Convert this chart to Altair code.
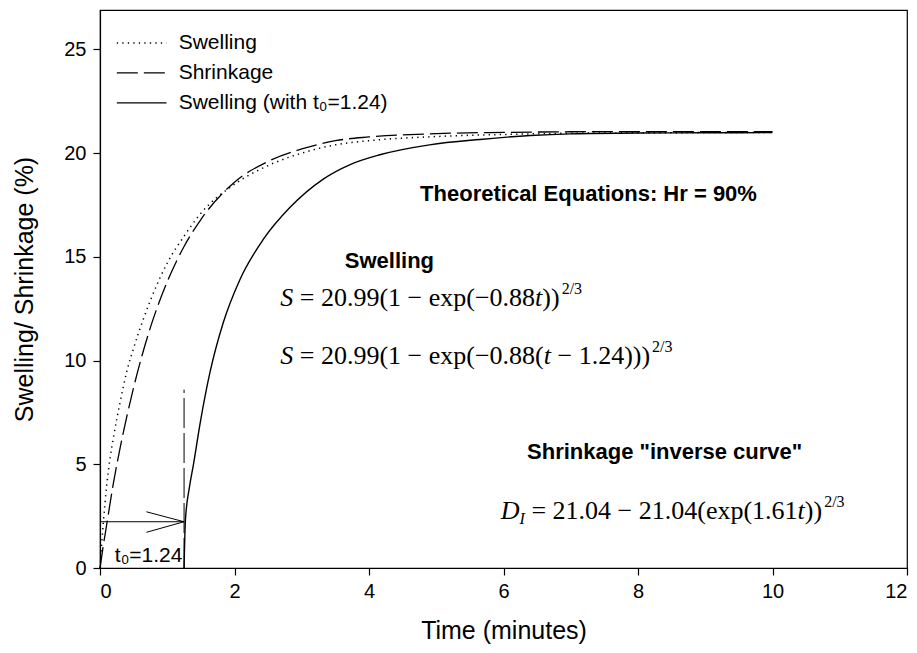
import altair as alt
import pandas as pd

# ---------------- data ----------------
swelling_t = [0, 0.05, 0.1, 0.15, 0.2, 0.3, 0.4, 0.5, 0.75, 1.0, 1.25, 1.5, 2.0, 2.5,
              3.0, 3.5, 4.0, 5.0, 6.0, 7.0, 8.0, 9.0, 10.0]
swelling_v = [0, 2.2, 4.0, 5.3, 6.3, 8.0, 9.5, 10.6, 12.9, 14.7, 16.0, 17.1, 18.5, 19.4,
              20.0, 20.4, 20.6, 20.8, 20.9, 20.96, 20.98, 20.99, 20.99]

shrink_t = [0, 0.05, 0.1, 0.2, 0.3, 0.5, 0.75, 1.0, 1.25, 1.5, 2.0, 2.5, 3.0, 3.5,
            4.0, 5.0, 6.0, 7.0, 8.0, 10.0]
shrink_v = [0, 1.1, 2.1, 4.1, 5.8, 8.7, 11.6, 13.8, 15.5, 16.8, 18.6, 19.6, 20.2, 20.6,
            20.78, 20.94, 21.0, 21.03, 21.04, 21.04]

shifted_t = [1.25, 1.27, 1.33, 1.39, 1.49, 1.64, 1.83, 2.08, 2.43, 2.83, 3.32, 3.72,
             4.16, 4.9, 5.65, 6.4, 7.0, 8.0, 9.0, 10.0]
shifted_v = [0, 2.3, 3.9, 5.0, 7.0, 9.5, 11.8, 13.9, 15.85, 17.4, 18.75, 19.45,
             19.92, 20.4, 20.66, 20.85, 20.93, 20.97, 20.98, 20.99]

t0_value = 1.25          # position of the t0 marker
t0_level = 2.23          # height of the t0 arrow
t0_top = 8.6             # top of the vertical dashed marker

legend_labels = ["Swelling", "Shrinkage", "Swelling (with t\u2080=1.24)"]
legend_y = [25.31, 23.87, 22.42]

x_ticks = [0, 2, 4, 6, 8, 10, 12]
y_ticks = [0, 5, 10, 15, 20, 25]

# ---------------- geometry ----------------
W, H = 807, 558
X_MAX, Y_MAX = 12, 26.9
PXX = W / X_MAX

xs = alt.Scale(domain=[0, X_MAX], nice=False, zero=False)
ys = alt.Scale(domain=[0, Y_MAX], nice=False, zero=False)

x_axis = alt.Axis(values=x_ticks, title="Time (minutes)", grid=False, tickSize=7,
                  labelPadding=6, titlePadding=17, format="d")
y_axis = alt.Axis(values=y_ticks, title="Swelling/ Shrinkage (%)", grid=False, tickSize=7,
                  labelPadding=7, titlePadding=26, format="d")

def X(field="x"):
    return alt.X(f"{field}:Q", scale=xs, axis=x_axis)

def Y(field="y"):
    return alt.Y(f"{field}:Q", scale=ys, axis=y_axis)

BLACK = "#000000"
DOT = [1.3, 4.2]
DASH = [21, 6]

def curve(t, v, dash=None, width=1.3):
    df = pd.DataFrame({"x": t, "y": v})
    kw = dict(color=BLACK, strokeWidth=width, interpolate="monotone")
    if dash:
        kw["strokeDash"] = dash
    return alt.Chart(df).mark_line(**kw).encode(x=X(), y=Y())

layers = [
    curve(swelling_t, swelling_v, DOT, 1.5),
    curve(shrink_t, shrink_v, DASH, 1.3),
    curve(shifted_t, shifted_v, None, 1.4),
]

# vertical dashed t0 marker
vdf = pd.DataFrame({"x": [t0_value], "y": [0], "y2": [t0_top]})
layers.append(alt.Chart(vdf).mark_rule(color=BLACK, strokeWidth=1, strokeDash=[30, 5]).encode(
    x=X(), y=Y(), y2="y2:Q"))

# arrow: shaft and open head
arrow_x = [0, 0.69, 0.69]
arrow_y = [t0_level, 2.71, 1.72]
adf = pd.DataFrame({"x": arrow_x, "y": arrow_y,
                    "x2": [t0_value] * 3, "y2": [t0_level] * 3})
layers.append(alt.Chart(adf).mark_rule(color=BLACK, strokeWidth=1).encode(
    x=X(), y=Y(), x2="x2:Q", y2="y2:Q"))

# t0 label
tdf = pd.DataFrame({"x": [0.22], "y": [0.3], "label": ["t\u2080=1.24"]})
layers.append(alt.Chart(tdf).mark_text(align="left", baseline="alphabetic", font="Liberation Sans",
                                       fontSize=21, color=BLACK).encode(x=X(), y=Y(), text="label:N"))

# legend (inside plot)
lx0, lx1, ltx = 0.25, 0.99, 1.17
for i, dash in enumerate([DOT, DASH, None]):
    ldf = pd.DataFrame({"x": [lx0], "x2": [lx1], "y": [legend_y[i]]})
    kw = dict(color=BLACK, strokeWidth=1.5 if i == 0 else 1.3)
    if dash:
        kw["strokeDash"] = dash
    layers.append(alt.Chart(ldf).mark_rule(**kw).encode(x=X(), x2="x2:Q", y=Y()))
ltdf = pd.DataFrame({"x": [ltx] * 3, "y": legend_y, "label": legend_labels})
layers.append(alt.Chart(ltdf).mark_text(align="left", baseline="middle", font="Liberation Sans",
                                        fontSize=21, color=BLACK).encode(x=X(), y=Y(), text="label:N"))

# bold headings
heads = pd.DataFrame({
    "x": [4.76, 3.64, 6.35],
    "y": [17.70, 14.47, 5.26],
    "label": ["Theoretical Equations: Hr = 90%", "Swelling", "Shrinkage \"inverse curve\""],
})
layers.append(alt.Chart(heads).mark_text(align="left", baseline="alphabetic", font="Liberation Sans",
                                         fontWeight="bold", fontSize=22, color=BLACK).encode(
    x=X(), y=Y(), text="label:N"))

# equations (Times-like serif) built from pieces
TW = {"0": .5, "1": .5, "2": .5, "3": .5, "4": .5, "5": .5, "6": .5, "7": .5, "8": .5, "9": .5,
      ".": .25, " ": .25, "=": .564, "(": .333, ")": .333, "\u2212": .564, "e": .444,
      "x": .5, "p": .5, "S": .5, "t": .278, "D": .722, "I": .333, "/": .278}

def width(s):
    return sum(TW.get(c, .5) for c in s)

EQ = 26
SMALL = 16
eq_rows = {"r": [], "i": [], "sup": [], "sub": []}

def equation(x0, y0, pieces):
    off = 0.0
    for text, style in pieces:
        fs = EQ if style in ("r", "i") else SMALL
        lead = len(text) - len(text.lstrip(" "))
        pos = off + lead * TW[" "] * fs
        if style == "sup":
            pos += 2
        eq_rows[style].append({"x": x0 + pos / PXX, "y": y0, "label": text.strip(" ")})
        off += width(text) * fs

M = "\u2212"
equation(2.68, 12.63, [("S", "i"), (f" = 20.99(1 {M} exp({M}0.88", "r"), ("t", "i"), ("))", "r"),
                       ("2/3", "sup")])
equation(2.68, 9.84, [("S", "i"), (f" = 20.99(1 {M} exp({M}0.88(", "r"), ("t", "i"),
                      (f" {M} 1.24)))", "r"), ("2/3", "sup")])
equation(5.96, 2.36, [("D", "i"), ("I", "sub"), (f" = 21.04 {M} 21.04(exp(1.61", "r"), ("t", "i"),
                      ("))", "r"), ("2/3", "sup")])

styles = {
    "r": dict(fontSize=EQ, fontStyle="normal", dy=0),
    "i": dict(fontSize=EQ, fontStyle="italic", dy=0),
    "sup": dict(fontSize=SMALL, fontStyle="normal", dy=-12),
    "sub": dict(fontSize=SMALL, fontStyle="italic", dy=5),
}
for key, st in styles.items():
    df = pd.DataFrame(eq_rows[key])
    layers.append(alt.Chart(df).mark_text(align="left", baseline="alphabetic", font="Liberation Serif",
                                          color=BLACK, **st).encode(x=X(), y=Y(), text="label:N"))

chart = alt.layer(*layers).properties(
    width=W, height=H,
    autosize=alt.AutoSizeParams(type="none"),
    padding={"left": 92, "top": 2, "right": 2, "bottom": 77},
    background="white",
).configure_view(
    stroke=BLACK, strokeWidth=1.2
).configure_axis(
    domainColor=BLACK, tickColor=BLACK, labelColor=BLACK, titleColor=BLACK,
    labelFont="Liberation Sans", titleFont="Liberation Sans",
    labelFontSize=20, titleFontSize=25, titleFontWeight="normal",
    domainWidth=1.2, tickWidth=1.2,
)

chart.save("out.html", embed_options={"renderer": "svg", "actions": False})
